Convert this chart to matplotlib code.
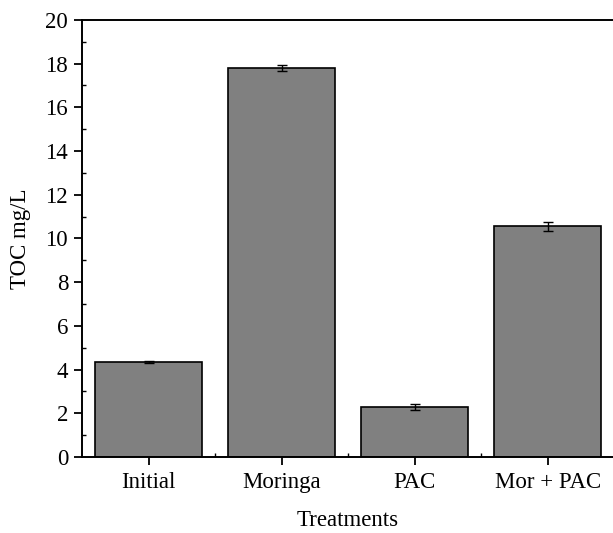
import matplotlib.pyplot as plt
from matplotlib.ticker import MultipleLocator, FixedLocator

plt.rcParams['font.family'] = ['Liberation Serif', 'DejaVu Serif']

# data
treatments = ['Initial', 'Moringa', 'PAC', 'Mor + PAC']
toc = [4.35, 17.8, 2.3, 10.55]
toc_err = [0.05, 0.12, 0.13, 0.2]

fig = plt.figure(figsize=(6.13, 5.33), dpi=100)
ax = fig.add_axes([0.1338, 0.1426, 0.8682, 0.82])

x = range(len(treatments))
ax.bar(x, toc, width=0.8, color='#808080', edgecolor='black', linewidth=1.2,
       yerr=toc_err, capsize=3.5, error_kw={'elinewidth': 1.0, 'capthick': 1.0, 'ecolor': 'black'})

ax.set_xlim(-0.5, 3.5)
ax.set_ylim(0, 20)
ax.set_xticks(list(x))
ax.set_xticklabels(treatments)
ax.xaxis.set_minor_locator(FixedLocator([0.5, 1.5, 2.5]))
ax.yaxis.set_major_locator(MultipleLocator(2))
ax.yaxis.set_minor_locator(MultipleLocator(1))

ax.tick_params(which='major', direction='out', length=6, width=1.3, labelsize=16.5, pad=4)
ax.tick_params(axis='x', which='major', pad=5)
ax.tick_params(which='minor', direction='in', length=3, width=1.0)
ax.tick_params(top=False, right=False, which='both')

for s in ax.spines.values():
    s.set_linewidth(1.4)

ax.set_xlabel('Treatments', fontsize=16.5, labelpad=12)
ax.set_ylabel('TOC mg/L', fontsize=16.5, labelpad=10)

plt.savefig('out.png', dpi=100)
